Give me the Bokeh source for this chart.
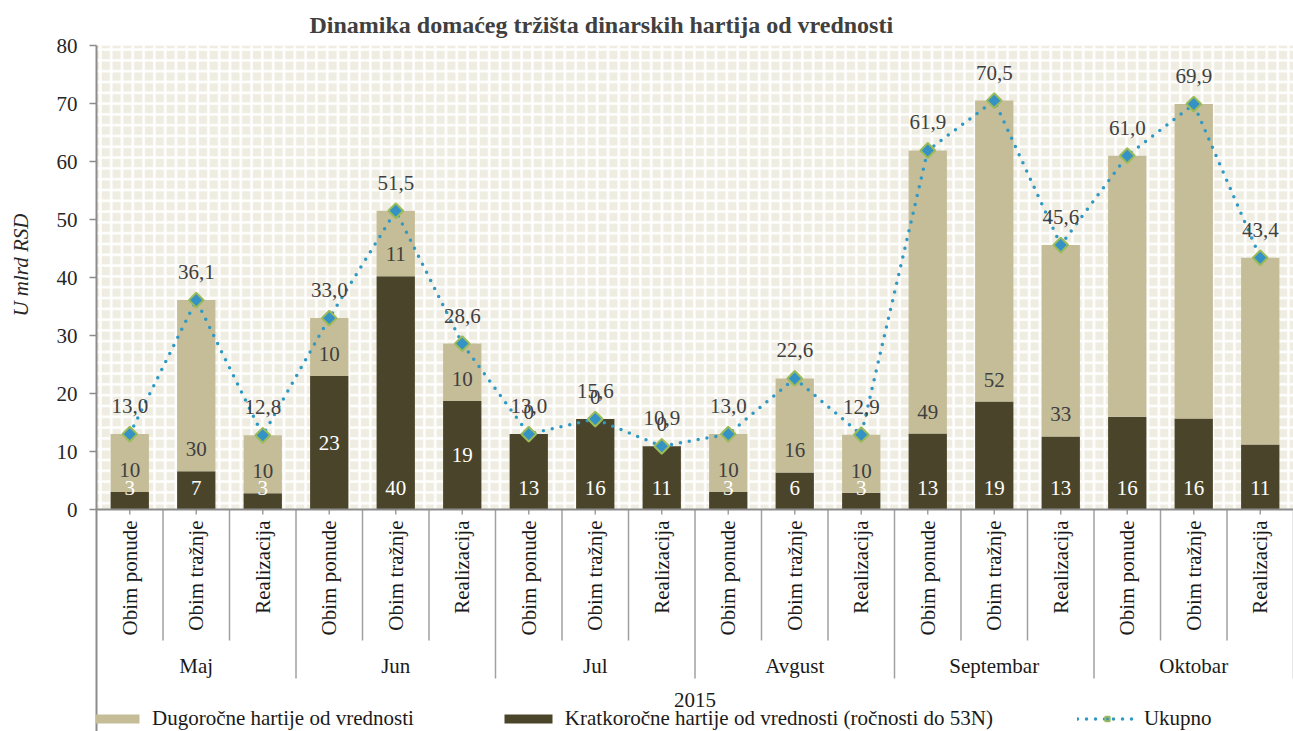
import math
from bokeh.plotting import figure
from bokeh.layouts import row
from bokeh.models import ColumnDataSource, Range1d, FixedTicker, Legend, LegendItem, Span
from bokeh.core.properties import value
from bokeh.embed import file_html
from bokeh.resources import INLINE

# ---------------- data ----------------
months = ["Maj", "Jun", "Jul", "Avgust", "Septembar", "Oktobar"]
kinds = ["Obim ponude", "Obim tražnje", "Realizacija"]
year = "2015"
short_term = [3.0, 6.6, 2.8, 23.0, 40.2, 18.7, 13.0, 15.6, 10.9, 3.0, 6.4, 2.9, 13.1, 18.6, 12.6, 16.0, 15.7, 11.2]
long_term = [10.0, 29.5, 10.0, 10.0, 11.3, 9.9, 0.0, 0.0, 0.0, 10.0, 16.2, 10.0, 48.8, 51.9, 33.0, 45.0, 54.2, 32.2]
totals = [13.0, 36.1, 12.8, 33.0, 51.5, 28.6, 13.0, 15.6, 10.9, 13.0, 22.6, 12.9, 61.9, 70.5, 45.6, 61.0, 69.9, 43.4]
short_labels = ["3", "7", "3", "23", "40", "19", "13", "16", "11", "3", "6", "3", "13", "19", "13", "16", "16", "11"]
long_labels = ["10", "30", "10", "10", "11", "10", "0", "0", "0", "10", "16", "10", "49", "52", "33", "", "", ""]
y_ticks = [0, 10, 20, 30, 40, 50, 60, 70, 80]
title_text = "Dinamika domaćeg tržišta dinarskih hartija od vrednosti"
y_title = "U mlrd RSD"
legend_labels = ["Dugoročne hartije od vrednosti",
                 "Kratkoročne hartije od vrednosti (ročnosti do 53N)",
                 "Ukupno"]

# ---------------- styling / layout ----------------
FONT = "Liberation Serif"
FS = "21px"
BEIGE = "#c4bd97"
DARK = "#4a452a"
LINE = "#2f98c3"
MARK_FILL = "#3592c4"
MARK_LINE = "#9bbb59"
GREY = "#8c8c8c"
TXT = "#404040"
BLACK = "#1a1a1a"

TOTAL_W, H = 1293, 731
SIDE_W = 40                      # strip holding the vertical y-axis title
W = TOTAL_W - SIDE_W
LEFT, TOP = 56, 45               # frame starts at x = 96 of the page
PXU = 5.8                        # pixels per y unit
CAT_PX = 66.5                    # pixels per category
Y_MAX = 80
y_zero_px = TOP + Y_MAX * PXU
y_start = -(H - y_zero_px) / PXU
x_end = -0.5 + (W - LEFT) / CAT_PX

n = len(totals)
idx = list(range(n))
categories = [(m, k) for m in months for k in kinds]

# ---- strip with the y-axis title ----
side = figure(width=SIDE_W, height=H, x_range=Range1d(0, SIDE_W), y_range=Range1d(H, 0),
              output_backend="svg", toolbar_location=None, x_axis_location=None,
              y_axis_location=None, title=None, min_border=0,
              min_border_left=0, min_border_right=0, min_border_top=0, min_border_bottom=0)
side.outline_line_color = None
side.grid.visible = False
side.background_fill_color = "white"
side.border_fill_color = "white"
side.text(x=[SIDE_W / 2], y=[234], text=[y_title], angle=math.pi / 2,
          text_font=value(FONT), text_font_size=FS, text_font_style="italic",
          text_color="#262626", text_align="center", text_baseline="middle")

# ---- main chart ----
p = figure(width=W, height=H, x_range=Range1d(-0.5, x_end), y_range=Range1d(y_start, Y_MAX),
           output_backend="svg", toolbar_location=None, x_axis_location=None,
           min_border_left=LEFT, min_border_top=TOP, min_border_right=0, min_border_bottom=0)
p.outline_line_color = None
p.xgrid.visible = False
p.ygrid.visible = False
p.background_fill_color = "white"
p.border_fill_color = "white"

p.title.text = title_text
p.title.align = "left"
p.title.offset = 213
p.title.standoff = 15
p.title.text_font = FONT
p.title.text_font_size = "24px"
p.title.text_font_style = "bold"
p.title.text_color = TXT

# patterned plot area
p.quad(left=[-0.5], right=[x_end], bottom=[0], top=[Y_MAX], fill_color="#efece2", line_color=None,
       hatch_pattern="+", hatch_color="white", hatch_weight=2.5, hatch_scale=10.8)

# y axis
ya = p.yaxis[0]
ya.ticker = FixedTicker(ticks=y_ticks)
ya.axis_line_color = GREY
ya.axis_line_width = 2
ya.major_tick_out = 7
ya.major_tick_in = 0
ya.major_tick_line_color = GREY
ya.major_tick_line_width = 1.5
ya.minor_tick_line_color = None
ya.major_label_text_font = FONT
ya.major_label_text_font_size = FS
ya.major_label_text_color = "#262626"
ya.major_label_standoff = 12

# stacked bars
src = ColumnDataSource(dict(
    x=idx, short=short_term, long=long_term, total=totals,
    short_lab=short_labels, long_lab=long_labels,
    total_lab=[("%.1f" % t).replace(".", ",") for t in totals],
    total_y=[t + 28 / PXU for t in totals],
    long_y=[s + 22 / PXU for s in short_term],
    short_y=[(s / 2 if i in (3, 5) else 22 / PXU) for i, s in enumerate(short_term)],
))
bars = p.vbar_stack(["short", "long"], x="x", width=0.576, source=src,
                    fill_color=[DARK, BEIGE], line_color=None)
r_short, r_long = bars

# x axis line and separators
p.add_layout(Span(location=0, dimension="width", line_color=GREY, line_width=2))
sep_x, sep_y1 = [], []
for i in range(1, n + 1):
    sep_x.append(i - 0.5)
    sep_y1.append(-(169 if i % 3 == 0 else 131) / PXU)
p.segment(x0=sep_x, x1=sep_x, y0=[0] * len(sep_x), y1=sep_y1, line_color="#a0a0a0", line_width=1.5)
p.segment(x0=idx, x1=idx, y0=[0] * n, y1=[-5 / PXU] * n, line_color="#a0a0a0", line_width=1.5)

# total line
r_line = p.line(x="x", y="total", source=src, line_color=LINE, line_width=3.5,
                line_dash="0 9", line_cap="round")
r_pts = p.scatter(x="x", y="total", source=src, marker="square", size=10.5, angle=math.pi / 4,
                  fill_color=MARK_FILL, line_color=MARK_LINE, line_width=2)

# data labels
p.text(x="x", y="short_y", text="short_lab", source=src, text_font=value(FONT), text_font_size=FS,
       text_color="white", text_align="center", text_baseline="middle")
p.text(x="x", y="long_y", text="long_lab", source=src, text_font=value(FONT), text_font_size=FS,
       text_color=TXT, text_align="center", text_baseline="middle")
p.text(x="x", y="total_y", text="total_lab", source=src, text_font=value(FONT), text_font_size=FS,
       text_color=TXT, text_align="center", text_baseline="middle")

# category labels
p.text(x=idx, y=[-11 / PXU] * n, text=[c[1] for c in categories], angle=math.pi / 2,
       text_font=value(FONT), text_font_size=FS, text_color=BLACK,
       text_align="right", text_baseline="middle")
p.text(x=[3 * m + 1 for m in range(len(months))], y=[-156 / PXU] * len(months), text=months,
       text_font=value(FONT), text_font_size=FS, text_color=BLACK,
       text_align="center", text_baseline="middle")
p.text(x=[(n - 1) / 2], y=[-190 / PXU], text=[year],
       text_font=value(FONT), text_font_size=FS, text_color=BLACK,
       text_align="center", text_baseline="middle")

legend = Legend(items=[LegendItem(label=legend_labels[0], renderers=[r_long]),
                       LegendItem(label=legend_labels[1], renderers=[r_short]),
                       LegendItem(label=legend_labels[2], renderers=[r_line, r_pts])],
                orientation="horizontal", location=(-11, 0), glyph_width=60, glyph_height=11,
                label_standoff=7, spacing=84, padding=0, margin=0, border_line_color=None,
                background_fill_alpha=0, label_text_font=FONT, label_text_font_size=FS,
                label_height=21, label_text_color=BLACK)
p.add_layout(legend)

layout = row(side, p, spacing=0)
open("out.html", "w").write(file_html(layout, INLINE))
